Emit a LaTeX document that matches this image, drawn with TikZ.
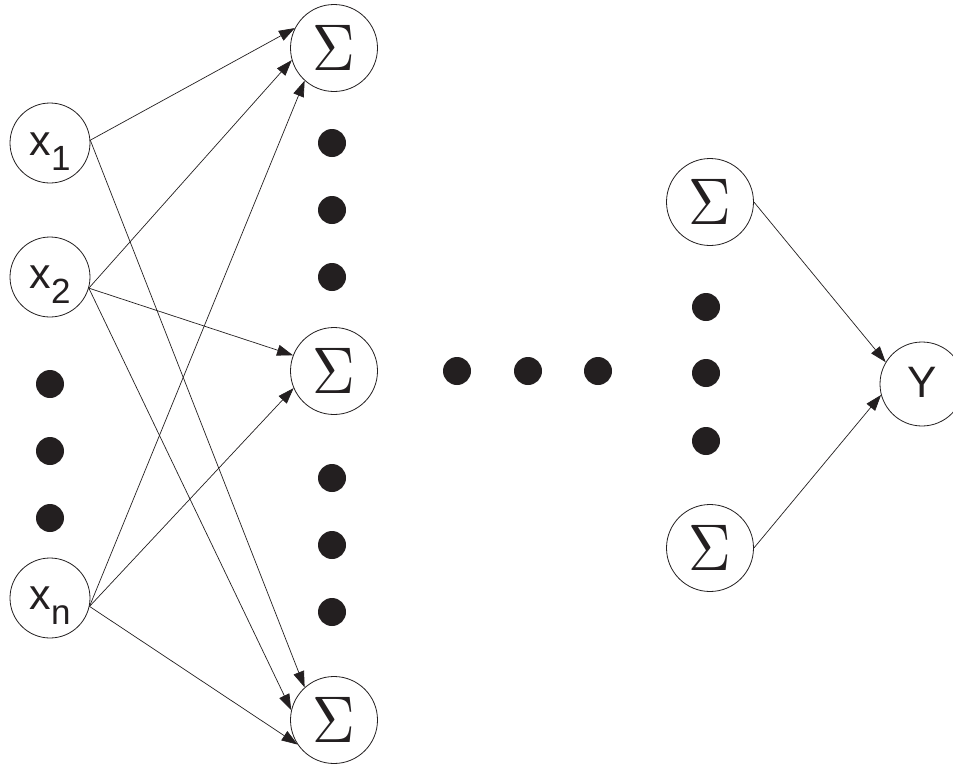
\documentclass[tikz,border=0pt]{standalone}
\usepackage{fontspec}
\usepackage{graphicx}
\setmainfont{Liberation Sans}
\usetikzlibrary{arrows.meta}
\definecolor{ink}{HTML}{231F20}
\newcommand\mylabx[1]{{\fontsize{43}{43}\selectfont x}\raisebox{-15pt}{\fontsize{35}{35}\selectfont #1}}
\newcommand\mysig{\scalebox{5.9}[6.6]{$\Sigma$}}
\begin{document}
\begin{tikzpicture}[x=1pt,y=-1pt,
  neuron/.style={draw=ink, circle, line width=0.8pt, minimum size=80pt, inner sep=0pt},
  sumnode/.style={draw=ink, circle, line width=0.8pt, minimum size=87pt, inner sep=0pt, text=ink},
  dotnode/.style={fill=ink, circle, minimum size=28pt, inner sep=0pt},
  lbl/.style={inner sep=0pt, text=ink},
  conn/.style={draw=ink, line width=0.7pt, -{Triangle[length=16pt,width=11pt]}}
]
\useasboundingbox (0,0) rectangle (953,763);
\fill[white] (0,0) rectangle (953,763);

% input neurons
\node[neuron] (x1) at (50,143) {};
\node[neuron] (x2) at (50,277) {};
\node[neuron] (xn) at (50,598) {};
\node[lbl] (x1t) at ([yshift=-9pt]x1.center) {\mylabx{1}};
\node[lbl] (x2t) at ([yshift=-8pt]x2.center) {\mylabx{2}};
\node[lbl] (xnt) at ([yshift=-8pt]xn.center) {\mylabx{n}};

% summation nodes
\node[sumnode] (s1) at (334,48) {\mysig};
\node[sumnode] (s2) at (334,371) {\mysig};
\node[sumnode] (s3) at (334,720) {\mysig};
\node[sumnode] (r1) at (710,202) {\mysig};
\node[sumnode] (r2) at (710,548) {\mysig};
\node[neuron, minimum size=84pt] (Y) at (922,384) {};
\node[lbl] (Yt) at (922,382) {\fontsize{44}{44}\selectfont Y};

% dots
\node[dotnode] (dl1) at (50,384) {};
\node[dotnode] (dl2) at (50,451) {};
\node[dotnode] (dl3) at (50,518) {};
\node[dotnode] (dm1) at (332,143) {};
\node[dotnode] (dm2) at (332,210) {};
\node[dotnode] (dm3) at (332,277) {};
\node[dotnode] (dm4) at (332,478) {};
\node[dotnode] (dm5) at (332,545) {};
\node[dotnode] (dm6) at (332,612) {};
\node[dotnode] (dh1) at (457,371) {};
\node[dotnode] (dh2) at (528,371) {};
\node[dotnode] (dh3) at (598,371) {};
\node[dotnode] (dr1) at (706,307) {};
\node[dotnode] (dr2) at (706,373) {};
\node[dotnode] (dr3) at (706,441) {};

% connections
\draw[conn] (x1.4) -- (s1.153);
\draw[conn] (x1.4) -- (s3.132);
\draw[conn] (x2.-16) -- (s1.196);
\draw[conn] (x2.-16) -- (s2.159);
\draw[conn] (x2.-16) -- (s3.167);
\draw[conn] (xn.-12) -- (s1.228);
\draw[conn] (xn.-12) -- (s2.203);
\draw[conn] (xn.-12) -- (s3.214);
\draw[conn] (r1.east) -- (Y.149);
\draw[conn] (r2.east) -- (Y.195);
\end{tikzpicture}
\end{document}
